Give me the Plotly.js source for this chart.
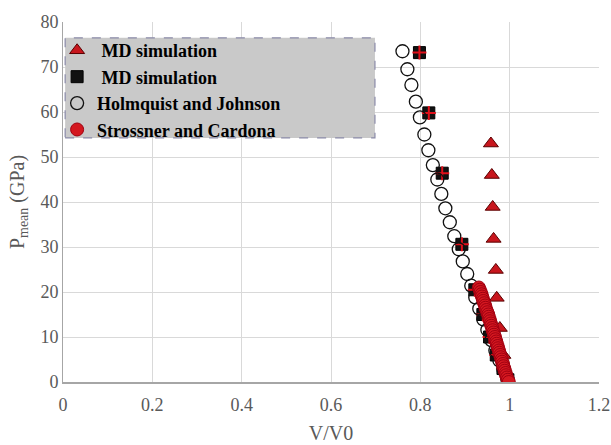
<!DOCTYPE html>
<html><head><meta charset="utf-8">
<script src="https://cdn.plot.ly/plotly-3.0.1.min.js"></script>
<style>html,body{margin:0;padding:0;background:#fff}#chart{width:611px;height:445px}</style>
</head><body><div id="chart"></div>
<script>
// MD simulation (triangles)
const triX = [0.958, 0.960, 0.962, 0.964, 0.969, 0.971, 0.978, 0.986];
const triY = [53.0, 46.0, 38.9, 31.8, 24.9, 18.7, 12.0, 6.0];
// MD simulation (squares)
const sqX = [0.798, 0.819, 0.849, 0.893, 0.922, 0.940, 0.955, 0.970, 0.985, 0.996];
const sqY = [73.2, 59.8, 46.4, 30.6, 20.5, 15.0, 10.0, 6.0, 3.0, 0.5];
// Holmquist and Johnson
const hjX = [0.760,0.771,0.780,0.790,0.799,0.809,0.818,0.828,0.838,0.847,0.856,0.866,0.876,0.886,0.895,0.905,0.914,0.923,0.932,0.941,0.950,0.959,0.968,0.977,0.986,0.995];
const hjY = [73.5,69.5,66.0,62.3,58.8,55.0,51.5,48.2,45.0,41.8,38.6,35.5,32.4,29.5,26.8,24.0,21.4,18.8,16.3,13.9,11.6,9.3,7.0,4.8,2.7,0.6];
// Strossner and Cardona
const scX = [0.931,0.933,0.935,0.937,0.938,0.940,0.941,0.943,0.945,0.946,0.948,0.950,0.952,0.953,0.955,0.956,0.958,0.959,0.961,0.962,0.964,0.965,0.967,0.968,0.970,0.971,0.973,0.974,0.976,0.977,0.979,0.980,0.982,0.983,0.985,0.986,0.988,0.989,0.991,0.992,0.994,0.996,0.998];
const scY = [21.0,20.5,20.0,19.5,19.0,18.5,18.0,17.5,17.0,16.5,16.0,15.5,15.0,14.5,14.0,13.5,13.0,12.5,12.0,11.5,11.0,10.5,10.0,9.5,9.0,8.5,8.0,7.5,7.0,6.5,6.0,5.5,5.0,4.5,4.0,3.5,3.0,2.5,2.0,1.5,1.0,0.5,0.0];
const names = [" MD simulation", " MD simulation", "Holmquist and Johnson", "Strossner and Cardona"];
const xTicks = [0, 0.2, 0.4, 0.6, 0.8, 1, 1.2];
const yTicks = [0, 10, 20, 30, 40, 50, 60, 70, 80];

const SERIF = '"Liberation Serif", "DejaVu Serif", serif';
const traces = [
  {x: triX, y: triY, name: names[0], mode: 'markers', type: 'scatter',
   marker: {symbol: 'triangle-up', size: 13, color: '#c8161d', line: {color: '#5a0000', width: 1}}},
  {x: sqX, y: sqY, name: names[1], mode: 'markers', type: 'scatter',
   marker: {symbol: 'square', size: 12, color: '#111111', line: {color: '#000', width: 1}}},
  {x: sqX, y: sqY, showlegend: false, mode: 'markers', type: 'scatter', hoverinfo: 'skip',
   marker: {symbol: 'cross-thin', size: 10, color: '#e0101a', line: {color: '#e0101a', width: 2}}},
  {x: hjX, y: hjY, name: names[2], mode: 'markers', type: 'scatter',
   marker: {symbol: 'circle-open', size: 13, color: '#111', line: {color: '#111', width: 1.3}}},
  {x: scX, y: scY, name: names[3], mode: 'markers', type: 'scatter',
   marker: {symbol: 'circle', size: 13, color: '#d41820', line: {color: '#a00010', width: 1}}}
];

const tickFont = {family: SERIF, size: 18, color: '#595959'};
const layout = {
  width: 611, height: 445,
  margin: {l: 63, r: 12, t: 22, b: 63},
  paper_bgcolor: '#fff', plot_bgcolor: '#fff',
  showlegend: true,
  legend: {x: -0.011, y: 0.972, xanchor: 'left', yanchor: 'top', bgcolor: 'rgba(0,0,0,0)',
    borderwidth: 0, tracegroupgap: 0, itemsizing: 'trace',
    font: {family: SERIF, size: 18, color: '#000', weight: 'bold'}},
  shapes: [{type: 'rect', xref: 'paper', yref: 'paper', x0: 0.004, x1: 0.582, y0: 0.678, y1: 0.956,
    fillcolor: '#c9c9c9', line: {color: '#8a8aa8', width: 1.2, dash: 'dash'}, layer: 'above'}],
  xaxis: {range: [0, 1.2], tickvals: xTicks, ticktext: xTicks.map(String), showgrid: true,
    gridcolor: '#d9d9d9', gridwidth: 1, zeroline: false, showline: true, linecolor: '#a6a6a6', linewidth: 2,
    ticks: '', tickfont: tickFont, ticklabeloverflow: 'allow', ticklabelstandoff: 5,
    title: {text: 'V/V0', font: {family: SERIF, size: 20, color: '#595959'}, standoff: 12}},
  yaxis: {range: [0, 80], tickvals: yTicks, showgrid: true, gridcolor: '#d9d9d9', gridwidth: 1,
    zeroline: false, showline: true, linecolor: '#a6a6a6', linewidth: 1, ticks: '', tickfont: tickFont,
    title: {text: 'P<sub>mean</sub> (GPa)', font: {family: SERIF, size: 20, color: '#595959'}, standoff: 10}}
};
Plotly.newPlot('chart', traces, layout, {displayModeBar: false, staticPlot: true});
</script></body></html>
